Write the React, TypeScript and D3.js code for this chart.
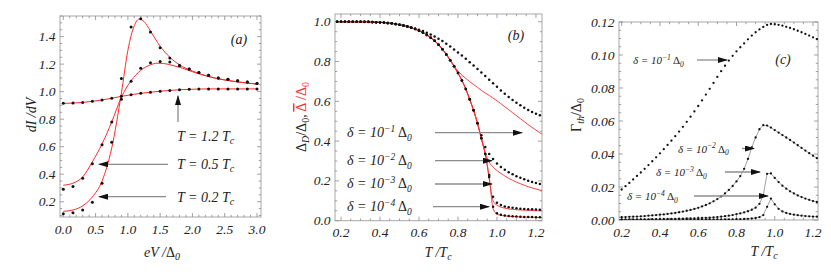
import * as d3 from "d3";

const FONT = "'Liberation Serif', 'Times New Roman', serif";
const RED = "#ff2a2a";

// ---------- panel (a): dI/dV vs eV/Δ0 ----------
const biasA = [0, 0.15, 0.3, 0.45, 0.6, 0.75, 0.9, 1.05, 1.2, 1.35, 1.5, 1.65, 1.8, 1.95, 2.1, 2.25, 2.4, 2.55, 2.7, 2.85, 3.0];
const dotsA02 = [0.113, 0.12, 0.14, 0.196, 0.334, 0.632, 1.095, 1.47, 1.53, 1.434, 1.32, 1.245, 1.19, 1.165, 1.14, 1.12, 1.1, 1.09, 1.08, 1.07, 1.06];
const dotsA05 = [0.29, 0.31, 0.37, 0.476, 0.615, 0.78, 0.945, 1.075, 1.17, 1.21, 1.22, 1.215, 1.19, 1.165, 1.14, 1.12, 1.1, 1.09, 1.08, 1.07, 1.06];
const dotsA12 = [0.915, 0.917, 0.922, 0.93, 0.94, 0.952, 0.966, 0.978, 0.988, 0.996, 1.003, 1.009, 1.014, 1.017, 1.019, 1.02, 1.02, 1.02, 1.02, 1.02, 1.02];
const redA02x = [0, 0.15, 0.3, 0.45, 0.6, 0.75, 0.9, 1.0, 1.1, 1.17, 1.25, 1.35, 1.5, 1.65, 1.8, 2.0, 2.25, 2.5, 2.75, 3.0];
const redA02y = [0.13, 0.14, 0.17, 0.235, 0.35, 0.59, 0.99, 1.3, 1.48, 1.527, 1.51, 1.44, 1.33, 1.25, 1.195, 1.15, 1.11, 1.085, 1.068, 1.055];
const redA05x = [0, 0.15, 0.3, 0.45, 0.6, 0.75, 0.9, 1.05, 1.2, 1.35, 1.45, 1.55, 1.7, 1.85, 2.0, 2.25, 2.5, 2.75, 3.0];
const redA05y = [0.32, 0.335, 0.38, 0.49, 0.62, 0.78, 0.96, 1.08, 1.155, 1.195, 1.207, 1.205, 1.19, 1.17, 1.145, 1.11, 1.085, 1.068, 1.055];
const ticksAx = [0, 0.5, 1, 1.5, 2, 2.5, 3];
const ticksAy = [0.2, 0.4, 0.6, 0.8, 1.0, 1.2, 1.4];

// ---------- panels (b), (c): common temperature grid T/Tc ----------
const tGrid = [0.18, 0.2, 0.22, 0.24, 0.26, 0.28, 0.3, 0.32, 0.34, 0.36, 0.38, 0.4, 0.42, 0.44, 0.46, 0.48, 0.5, 0.52, 0.54, 0.56, 0.58, 0.6, 0.62, 0.64, 0.66, 0.68, 0.7, 0.72, 0.74, 0.76, 0.78, 0.8, 0.82, 0.84, 0.86, 0.88, 0.9, 0.92, 0.94, 0.96, 0.98, 1.0, 1.02, 1.04, 1.06, 1.08, 1.1, 1.12, 1.14, 1.16, 1.18, 1.2, 1.22, 1.24];

// (b) gap below Tc, shared by the small-δ curves (T = 0.18 .. 0.96)
const gapBase = [1, 1, 1, 1, 1, 1, 1, 1, 1, 0.999, 0.998, 0.997, 0.996, 0.994, 0.992, 0.989, 0.985, 0.981, 0.976, 0.97, 0.963, 0.955, 0.946, 0.934, 0.92, 0.904, 0.885, 0.862, 0.836, 0.807, 0.776, 0.742, 0.705, 0.662, 0.61, 0.555, 0.49, 0.415, 0.335, 0.22];
const tailD4 = [0.07, 0.038, 0.03, 0.026, 0.024, 0.022, 0.021, 0.02, 0.019, 0.018, 0.018, 0.017, 0.017, 0.016];
const tailD3 = [0.23, 0.12, 0.09, 0.079, 0.072, 0.068, 0.065, 0.062, 0.06, 0.059, 0.058, 0.057, 0.056, 0.055, 0.054];
const tailD2 = [0.43, 0.37, 0.335, 0.31, 0.288, 0.27, 0.256, 0.244, 0.233, 0.224, 0.216, 0.208, 0.201, 0.195, 0.19, 0.185, 0.18];
const dotsD1 = [1, 1, 1, 1, 1, 1, 1, 0.999, 0.999, 0.998, 0.997, 0.996, 0.995, 0.993, 0.991, 0.988, 0.985, 0.981, 0.977, 0.972, 0.966, 0.96, 0.953, 0.945, 0.936, 0.926, 0.915, 0.903, 0.89, 0.876, 0.861, 0.846, 0.83, 0.814, 0.797, 0.78, 0.763, 0.745, 0.727, 0.709, 0.691, 0.673, 0.655, 0.638, 0.622, 0.607, 0.593, 0.58, 0.568, 0.557, 0.547, 0.538, 0.53, 0.522];
const redTail4 = [0.06, 0.033, 0.027, 0.024, 0.022, 0.021, 0.02, 0.019, 0.018, 0.018, 0.017, 0.017, 0.016, 0.016];
const redTail3 = [0.21, 0.1, 0.078, 0.068, 0.063, 0.059, 0.057, 0.055, 0.054, 0.053, 0.052, 0.051, 0.05, 0.05, 0.05];
const redTail2 = [0.41, 0.34, 0.295, 0.27, 0.252, 0.238, 0.225, 0.213, 0.203, 0.194, 0.186, 0.178, 0.171, 0.165, 0.159, 0.154, 0.15];
const redTail1 = [0.778, 0.752, 0.732, 0.715, 0.699, 0.685, 0.67, 0.655, 0.642, 0.63, 0.616, 0.603, 0.588, 0.573, 0.558, 0.543, 0.528, 0.513, 0.498, 0.483, 0.469, 0.455, 0.442, 0.43];
const ticksBx = [0.2, 0.4, 0.6, 0.8, 1.0, 1.2];
const ticksBy = [0, 0.2, 0.4, 0.6, 0.8, 1.0];

// (c) Γth/Δ0
const gam1 = [0.0165, 0.0185, 0.0205, 0.0225, 0.0246, 0.0267, 0.0288, 0.031, 0.0333, 0.0356, 0.038, 0.0404, 0.0429, 0.0455, 0.0481, 0.0508, 0.0536, 0.0565, 0.0595, 0.0626, 0.0658, 0.0691, 0.0725, 0.076, 0.0795, 0.0831, 0.0867, 0.0902, 0.0935, 0.0966, 0.0995, 0.1022, 0.1047, 0.107, 0.1095, 0.1118, 0.1138, 0.1155, 0.117, 0.1182, 0.1188, 0.1187, 0.1183, 0.1178, 0.1171, 0.1164, 0.1156, 0.1147, 0.1138, 0.1128, 0.1118, 0.1107, 0.1096, 0.1085];
const gam2 = [0.0016, 0.0017, 0.0018, 0.0019, 0.002, 0.0021, 0.0022, 0.0024, 0.0026, 0.0028, 0.003, 0.0032, 0.0034, 0.0037, 0.004, 0.0043, 0.0047, 0.0051, 0.0056, 0.0061, 0.0067, 0.0074, 0.0082, 0.0091, 0.0101, 0.0113, 0.0127, 0.0143, 0.0161, 0.0182, 0.0206, 0.0234, 0.0266, 0.031, 0.037, 0.044, 0.05, 0.055, 0.0575, 0.0572, 0.056, 0.0545, 0.053, 0.0515, 0.05, 0.0485, 0.0469, 0.0453, 0.0437, 0.0421, 0.0405, 0.039, 0.0375, 0.0361];
const gam3 = [0.0003, 0.0003, 0.0003, 0.0003, 0.0003, 0.0004, 0.0004, 0.0004, 0.0004, 0.0005, 0.0005, 0.0005, 0.0006, 0.0006, 0.0007, 0.0007, 0.0008, 0.0008, 0.0009, 0.001, 0.001, 0.0011, 0.0012, 0.0013, 0.0014, 0.0016, 0.0018, 0.002, 0.0023, 0.0026, 0.003, 0.0035, 0.004, 0.0046, 0.0053, 0.0062, 0.0075, 0.0098, 0.015, 0.028, 0.0282, 0.0255, 0.023, 0.0208, 0.019, 0.0174, 0.0161, 0.0149, 0.0139, 0.013, 0.0122, 0.0115, 0.0109, 0.0103];
const gam4 = [0.0001, 0.0001, 0.0001, 0.0001, 0.0001, 0.0001, 0.0001, 0.0001, 0.0001, 0.0001, 0.0001, 0.0001, 0.0001, 0.0001, 0.0001, 0.0001, 0.0002, 0.0002, 0.0002, 0.0002, 0.0002, 0.0002, 0.0002, 0.0002, 0.0003, 0.0003, 0.0003, 0.0003, 0.0004, 0.0004, 0.0004, 0.0005, 0.0005, 0.0006, 0.0007, 0.0009, 0.0012, 0.0017, 0.003, 0.008, 0.013, 0.0095, 0.0068, 0.0052, 0.0043, 0.0037, 0.0032, 0.0029, 0.0026, 0.0024, 0.0022, 0.0021, 0.002, 0.0019];
const ticksCx = [0.2, 0.4, 0.6, 0.8, 1.0, 1.2];
const ticksCy = [0, 0.02, 0.04, 0.06, 0.08, 0.1, 0.12];

// scales
const xA = d3.scaleLinear().domain([-0.051, 3.062]).range([60, 261]);
const yA = d3.scaleLinear().domain([0.089, 1.55]).range([217, 16]);
const xB = d3.scaleLinear().domain([0.169, 1.231]).range([335, 542]);
const yB = d3.scaleLinear().domain([0, 1.039]).range([220.7, 14]);
const xC = d3.scaleLinear().domain([0.186, 1.226]).range([619, 818]);
const yC = d3.scaleLinear().domain([0, 0.12]).range([220, 22]);

type Scale = d3.ScaleLinear<number, number>;

function Frame({ id, x, y, xTicks, yTicks, xMinor, yMinor, xDig, yDig }: {
  id: string; x: Scale; y: Scale; xTicks: number[]; yTicks: number[];
  xMinor: number; yMinor: number; xDig: number; yDig: number;
}) {
  const [l, r] = x.range();
  const [b, t] = y.range();
  const [dx0, dx1] = x.domain();
  const [dy0, dy1] = y.domain();
  const mx = d3.range(Math.ceil(dx0 / xMinor - 1e-6), Math.floor(dx1 / xMinor + 1e-6) + 1).map((k) => k * xMinor);
  const my = d3.range(Math.ceil(dy0 / yMinor - 1e-6), Math.floor(dy1 / yMinor + 1e-6) + 1).map((k) => k * yMinor);
  const isMajor = (arr: number[], v: number) => arr.some((a) => Math.abs(a - v) < 1e-6);
  return (
    <g>
      <clipPath id={id}>
        <rect x={l} y={t} width={r - l} height={b - t} />
      </clipPath>
      <rect x={l} y={t} width={r - l} height={b - t} fill="none" stroke="#a8a8a8" strokeWidth={1} />
      <g stroke="#8a8a8a" strokeWidth={0.8}>
        {mx.map((v, i) => {
          const len = isMajor(xTicks, v) ? 4 : 2.2;
          const p = x(v);
          return (
            <g key={"x" + i}>
              <line x1={p} x2={p} y1={b} y2={b - len} />
              <line x1={p} x2={p} y1={t} y2={t + len} />
            </g>
          );
        })}
        {my.map((v, i) => {
          const len = isMajor(yTicks, v) ? 4 : 2.2;
          const p = y(v);
          return (
            <g key={"y" + i}>
              <line x1={l} x2={l + len} y1={p} y2={p} />
              <line x1={r} x2={r - len} y1={p} y2={p} />
            </g>
          );
        })}
      </g>
      <g fontFamily={FONT} fontStyle="italic" fontSize={13.5} fill="#222">
        {xTicks.map((v) => (
          <text key={"lx" + v} x={x(v)} y={b + 16.5} textAnchor="middle">
            {v.toFixed(xDig)}
          </text>
        ))}
        {yTicks.map((v) => (
          <text key={"ly" + v} x={l - 4.5} y={y(v) + 4.5} textAnchor="end">
            {v.toFixed(yDig)}
          </text>
        ))}
      </g>
    </g>
  );
}

function Dots({ xs, ys, x, y, r, clip, thread }: { xs: number[]; ys: number[]; x: Scale; y: Scale; r: number; clip: string; thread?: boolean }) {
  const line = d3
    .line<number>()
    .x((_, i) => x(xs[i]))
    .y((d) => y(d));
  return (
    <g clipPath={`url(#${clip})`} fill="#111">
      {thread && <path d={line(ys) || ""} fill="none" stroke="#444" strokeWidth={0.5} />}
      {ys.map((v, i) => (
        <circle key={i} cx={x(xs[i])} cy={y(v)} r={r} />
      ))}
    </g>
  );
}

function RedLine({ xs, ys, x, y, clip, w = 1 }: { xs: number[]; ys: number[]; x: Scale; y: Scale; clip: string; w?: number }) {
  const line = d3
    .line<number>()
    .x((_, i) => x(xs[i]))
    .y((d) => y(d))
    .curve(d3.curveMonotoneX);
  return <path d={line(ys) || ""} fill="none" stroke={RED} strokeWidth={w} clipPath={`url(#${clip})`} />;
}

function Arrow({ x1, y1, x2, y2 }: { x1: number; y1: number; x2: number; y2: number }) {
  return <line x1={x1} y1={y1} x2={x2} y2={y2} stroke="#8c8c8c" strokeWidth={1.3} markerEnd="url(#head)" />;
}

function TLabel({ x, y, val }: { x: number; y: number; val: string }) {
  return (
    <text x={x} y={y} fontFamily={FONT} fontStyle="italic" fontSize={14} fill="#222">
      T = {val} T<tspan dy={3} fontSize={10}>c</tspan>
    </text>
  );
}

function DeltaLabel({ x, y, exp, size }: { x: number; y: number; exp: string; size: number }) {
  return (
    <text x={x} y={y} fontFamily={FONT} fontStyle="italic" fontSize={size} fill="#222" xmlSpace="preserve">
      δ = 10<tspan dy={-size * 0.38} fontSize={size * 0.68}>−{exp}</tspan>
      <tspan dy={size * 0.38} fontStyle="normal"> Δ</tspan>
      <tspan dy={size * 0.25} fontSize={size * 0.68}>0</tspan>
    </text>
  );
}

export default function App() {
  const dotsD4 = [...gapBase, ...tailD4];
  const dotsD3 = [...gapBase.slice(0, 39), ...tailD3];
  const dotsD2 = [...gapBase.slice(0, 37), ...tailD2];
  const red4 = [...gapBase, ...redTail4];
  const red3 = [...gapBase.slice(0, 39), ...redTail3];
  const red2 = [...gapBase.slice(0, 37), ...redTail2];
  const red1 = [...gapBase.slice(0, 30), ...redTail1];

  return (
    <svg
      width={831}
      height={278}
      viewBox="0 0 831 278"
      style={{ position: "absolute", left: 0, top: 0, background: "#fff" }}
    >
      <defs>
        <marker id="head" markerUnits="userSpaceOnUse" markerWidth={10} markerHeight={6} refX={9} refY={3} orient="auto">
          <path d="M0,0 L10,3 L0,6 Z" fill="#111" />
        </marker>
      </defs>

      {/* panel (a) */}
      <Frame id="clipA" x={xA} y={yA} xTicks={ticksAx} yTicks={ticksAy} xMinor={0.1} yMinor={0.05} xDig={1} yDig={1} />
      <RedLine xs={redA02x} ys={redA02y} x={xA} y={yA} clip="clipA" />
      <RedLine xs={redA05x} ys={redA05y} x={xA} y={yA} clip="clipA" />
      <RedLine xs={biasA} ys={dotsA12} x={xA} y={yA} clip="clipA" />
      <Dots xs={biasA} ys={dotsA02} x={xA} y={yA} r={1.5} clip="clipA" />
      <Dots xs={biasA} ys={dotsA05} x={xA} y={yA} r={1.5} clip="clipA" />
      <Dots xs={biasA} ys={dotsA12} x={xA} y={yA} r={1.5} clip="clipA" />
      <Arrow x1={178} y1={122} x2={178} y2={96} />
      <Arrow x1={168} y1={164.3} x2={99} y2={164.3} />
      <Arrow x1={166} y1={196.7} x2={99} y2={196.7} />
      <TLabel x={177} y={141} val="1.2" />
      <TLabel x={177} y={169} val="0.5" />
      <TLabel x={177} y={202} val="0.2" />
      <text x={239} y={44} textAnchor="middle" fontFamily={FONT} fontStyle="italic" fontSize={14} fill="#222">(a)</text>
      <text x={162} y={257} textAnchor="middle" fontFamily={FONT} fontStyle="italic" fontSize={14} fill="#222">
        eV /<tspan fontStyle="normal">Δ</tspan><tspan dy={3} fontSize={10}>0</tspan>
      </text>
      <text transform="translate(36,115) rotate(-90)" textAnchor="middle" fontFamily={FONT} fontStyle="italic" fontSize={14} fill="#222">
        dI /dV
      </text>

      {/* panel (b) */}
      <Frame id="clipB" x={xB} y={yB} xTicks={ticksBx} yTicks={ticksBy} xMinor={0.05} yMinor={0.05} xDig={1} yDig={1} />
      <RedLine xs={tGrid} ys={red1} x={xB} y={yB} clip="clipB" w={0.9} />
      <RedLine xs={tGrid} ys={red2} x={xB} y={yB} clip="clipB" w={0.9} />
      <RedLine xs={tGrid} ys={red3} x={xB} y={yB} clip="clipB" w={0.9} />
      <RedLine xs={tGrid} ys={red4} x={xB} y={yB} clip="clipB" w={0.9} />
      <Dots xs={tGrid} ys={dotsD1} x={xB} y={yB} r={1.25} clip="clipB" />
      <Dots xs={tGrid} ys={dotsD2} x={xB} y={yB} r={1.25} clip="clipB" />
      <Dots xs={tGrid} ys={dotsD3} x={xB} y={yB} r={1.25} clip="clipB" />
      <Dots xs={tGrid} ys={dotsD4} x={xB} y={yB} r={1.25} clip="clipB" />
      <Arrow x1={435} y1={132.7} x2={522} y2={132.7} />
      <Arrow x1={435} y1={160.7} x2={492} y2={160.7} />
      <Arrow x1={435} y1={184} x2={492} y2={184} />
      <Arrow x1={433} y1={206.7} x2={489} y2={206.7} />
      <DeltaLabel x={347} y={137} exp="1" size={14} />
      <DeltaLabel x={347} y={165} exp="2" size={14} />
      <DeltaLabel x={347} y={188} exp="3" size={14} />
      <DeltaLabel x={347} y={211} exp="4" size={14} />
      <text x={516} y={40} textAnchor="middle" fontFamily={FONT} fontStyle="italic" fontSize={14} fill="#222">(b)</text>
      <text x={438} y={257} textAnchor="middle" fontFamily={FONT} fontStyle="italic" fontSize={14} fill="#222">
        T /T<tspan dy={3} fontSize={10}>c</tspan>
      </text>
      <text transform="translate(306,117) rotate(-90)" textAnchor="middle" fontFamily={FONT} fontSize={14} fill="#222">
        Δ<tspan dy={3} fontSize={10} fontStyle="italic">D</tspan>
        <tspan dy={-3}>/Δ</tspan>
        <tspan dy={3} fontSize={10}>0</tspan>
        <tspan dy={-3}>, </tspan>
        <tspan fill={RED} textDecoration="overline">Δ</tspan>
        <tspan fill={RED}> /Δ</tspan>
        <tspan dy={3} fontSize={10} fill={RED}>0</tspan>
      </text>

      {/* panel (c) */}
      <Frame id="clipC" x={xC} y={yC} xTicks={ticksCx} yTicks={ticksCy} xMinor={0.05} yMinor={0.005} xDig={1} yDig={2} />
      <Dots xs={tGrid} ys={gam1} x={xC} y={yC} r={1.15} clip="clipC" />
      <Dots xs={tGrid} ys={gam2} x={xC} y={yC} r={1.15} clip="clipC" thread />
      <Dots xs={tGrid} ys={gam3} x={xC} y={yC} r={1.15} clip="clipC" thread />
      <Dots xs={tGrid} ys={gam4} x={xC} y={yC} r={1.15} clip="clipC" thread />
      <Arrow x1={697} y1={60} x2={727} y2={60} />
      <Arrow x1={742} y1={148.5} x2={754} y2={148.5} />
      <Arrow x1={725} y1={172} x2={760} y2={172} />
      <Arrow x1={694} y1={196} x2={768} y2={196} />
      <DeltaLabel x={633} y={64} exp="1" size={11} />
      <DeltaLabel x={678} y={152.5} exp="2" size={11} />
      <DeltaLabel x={656} y={176} exp="3" size={11} />
      <DeltaLabel x={627} y={200} exp="4" size={11} />
      <text x={783} y={64} textAnchor="middle" fontFamily={FONT} fontStyle="italic" fontSize={14} fill="#222">(c)</text>
      <text x={764} y={256} textAnchor="middle" fontFamily={FONT} fontStyle="italic" fontSize={14} fill="#222">
        T /T<tspan dy={3} fontSize={10}>c</tspan>
      </text>
      <text transform="translate(581,115) rotate(-90)" textAnchor="middle" fontFamily={FONT} fontSize={14} fill="#222">
        Γ<tspan dy={3} fontSize={10} fontStyle="italic">th</tspan>
        <tspan dy={-3}>/Δ</tspan>
        <tspan dy={3} fontSize={10}>0</tspan>
      </text>
    </svg>
  );
}
